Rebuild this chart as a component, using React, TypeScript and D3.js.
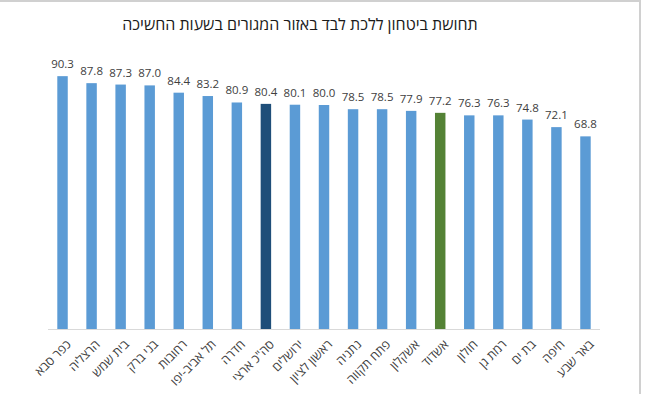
import { useEffect, useRef } from "react";
import * as d3 from "d3";

const cities = [
  "כפר סבא",
  "הרצליה",
  "בית שמש",
  "בני ברק",
  "רחובות",
  "תל אביב-יפו",
  "חדרה",
  'סה"כ ארצי',
  "ירושלים",
  "ראשון לציון",
  "נתניה",
  "פתח תקווה",
  "אשקלון",
  "אשדוד",
  "חולון",
  "רמת גן",
  "בת ים",
  "חיפה",
  "באר שבע",
];
const values = [
  90.3, 87.8, 87.3, 87.0, 84.4, 83.2, 80.9, 80.4, 80.1, 80.0, 78.5, 78.5, 77.9,
  77.2, 76.3, 76.3, 74.8, 72.1, 68.8,
];
const title = "תחושת ביטחון ללכת לבד באזור המגורים בשעות החשיכה";
const totalLabel = 'סה"כ ארצי';
const homeLabel = "אשדוד";

const width = 645;
const height = 394;

export default function App() {
  const ref = useRef<SVGSVGElement>(null);

  useEffect(() => {
    if (!ref.current) return;
    const svg = d3.select(ref.current);
    svg.selectAll("*").remove();

    const font = "'Open Sans', 'DejaVu Sans', sans-serif";

    svg.append("rect").attr("width", width).attr("height", height).attr("fill", "#fff");

    // frame of the screenshot
    svg
      .append("path")
      .attr("d", `M0,1H${width - 5}V${height}`)
      .attr("fill", "none")
      .attr("stroke", "#d0d0d0")
      .attr("stroke-width", 2);

    const x = d3.scaleBand().domain(cities).range([48, 600]).paddingInner(0.64).paddingOuter(0.32);
    const y = d3.scaleLinear().domain([0, 100]).range([329, 49]);

    svg
      .append("text")
      .attr("x", 300)
      .attr("y", 30)
      .attr("text-anchor", "middle")
      .attr("font-family", font)
      .attr("font-size", 16)
      .attr("fill", "#1a1a1a")
      .text(title);

    const colorOf = (c: string) =>
      c === totalLabel ? "#1f4e79" : c === homeLabel ? "#548235" : "#5b9bd5";

    svg
      .append("g")
      .selectAll("rect")
      .data(cities)
      .join("rect")
      .attr("x", (d) => x(d)!)
      .attr("width", x.bandwidth())
      .attr("y", (d, i) => y(values[i]))
      .attr("height", (d, i) => y(0) - y(values[i]))
      .attr("fill", colorOf);

    svg
      .append("g")
      .selectAll("text")
      .data(cities)
      .join("text")
      .attr("x", (d) => x(d)! + x.bandwidth() / 2)
      .attr("y", (d, i) => y(values[i]) - 8)
      .attr("text-anchor", "middle")
      .attr("font-family", font)
      .attr("font-size", 11.5)
      .attr("fill", "#404040")
      .text((d, i) => values[i].toFixed(1));

    svg
      .append("line")
      .attr("x1", 48)
      .attr("x2", 600)
      .attr("y1", y(0) + 0.5)
      .attr("y2", y(0) + 0.5)
      .attr("stroke", "#d9d9d9");

    svg
      .append("g")
      .selectAll("text")
      .data(cities)
      .join("text")
      .attr("transform", (d) => `translate(${x(d)! + x.bandwidth() / 2 + 6},${y(0) + 13}) rotate(-45)`)
      .attr("text-anchor", "end")
      .attr("dominant-baseline", "central")
      .attr("font-family", font)
      .attr("font-size", 12.5)
      .attr("fill", "#404040")
      .text((d) => d);
  }, []);

  return (
    <svg
      ref={ref}
      width={width}
      height={height}
      style={{ position: "absolute", left: 0, top: 0 }}
    />
  );
}
